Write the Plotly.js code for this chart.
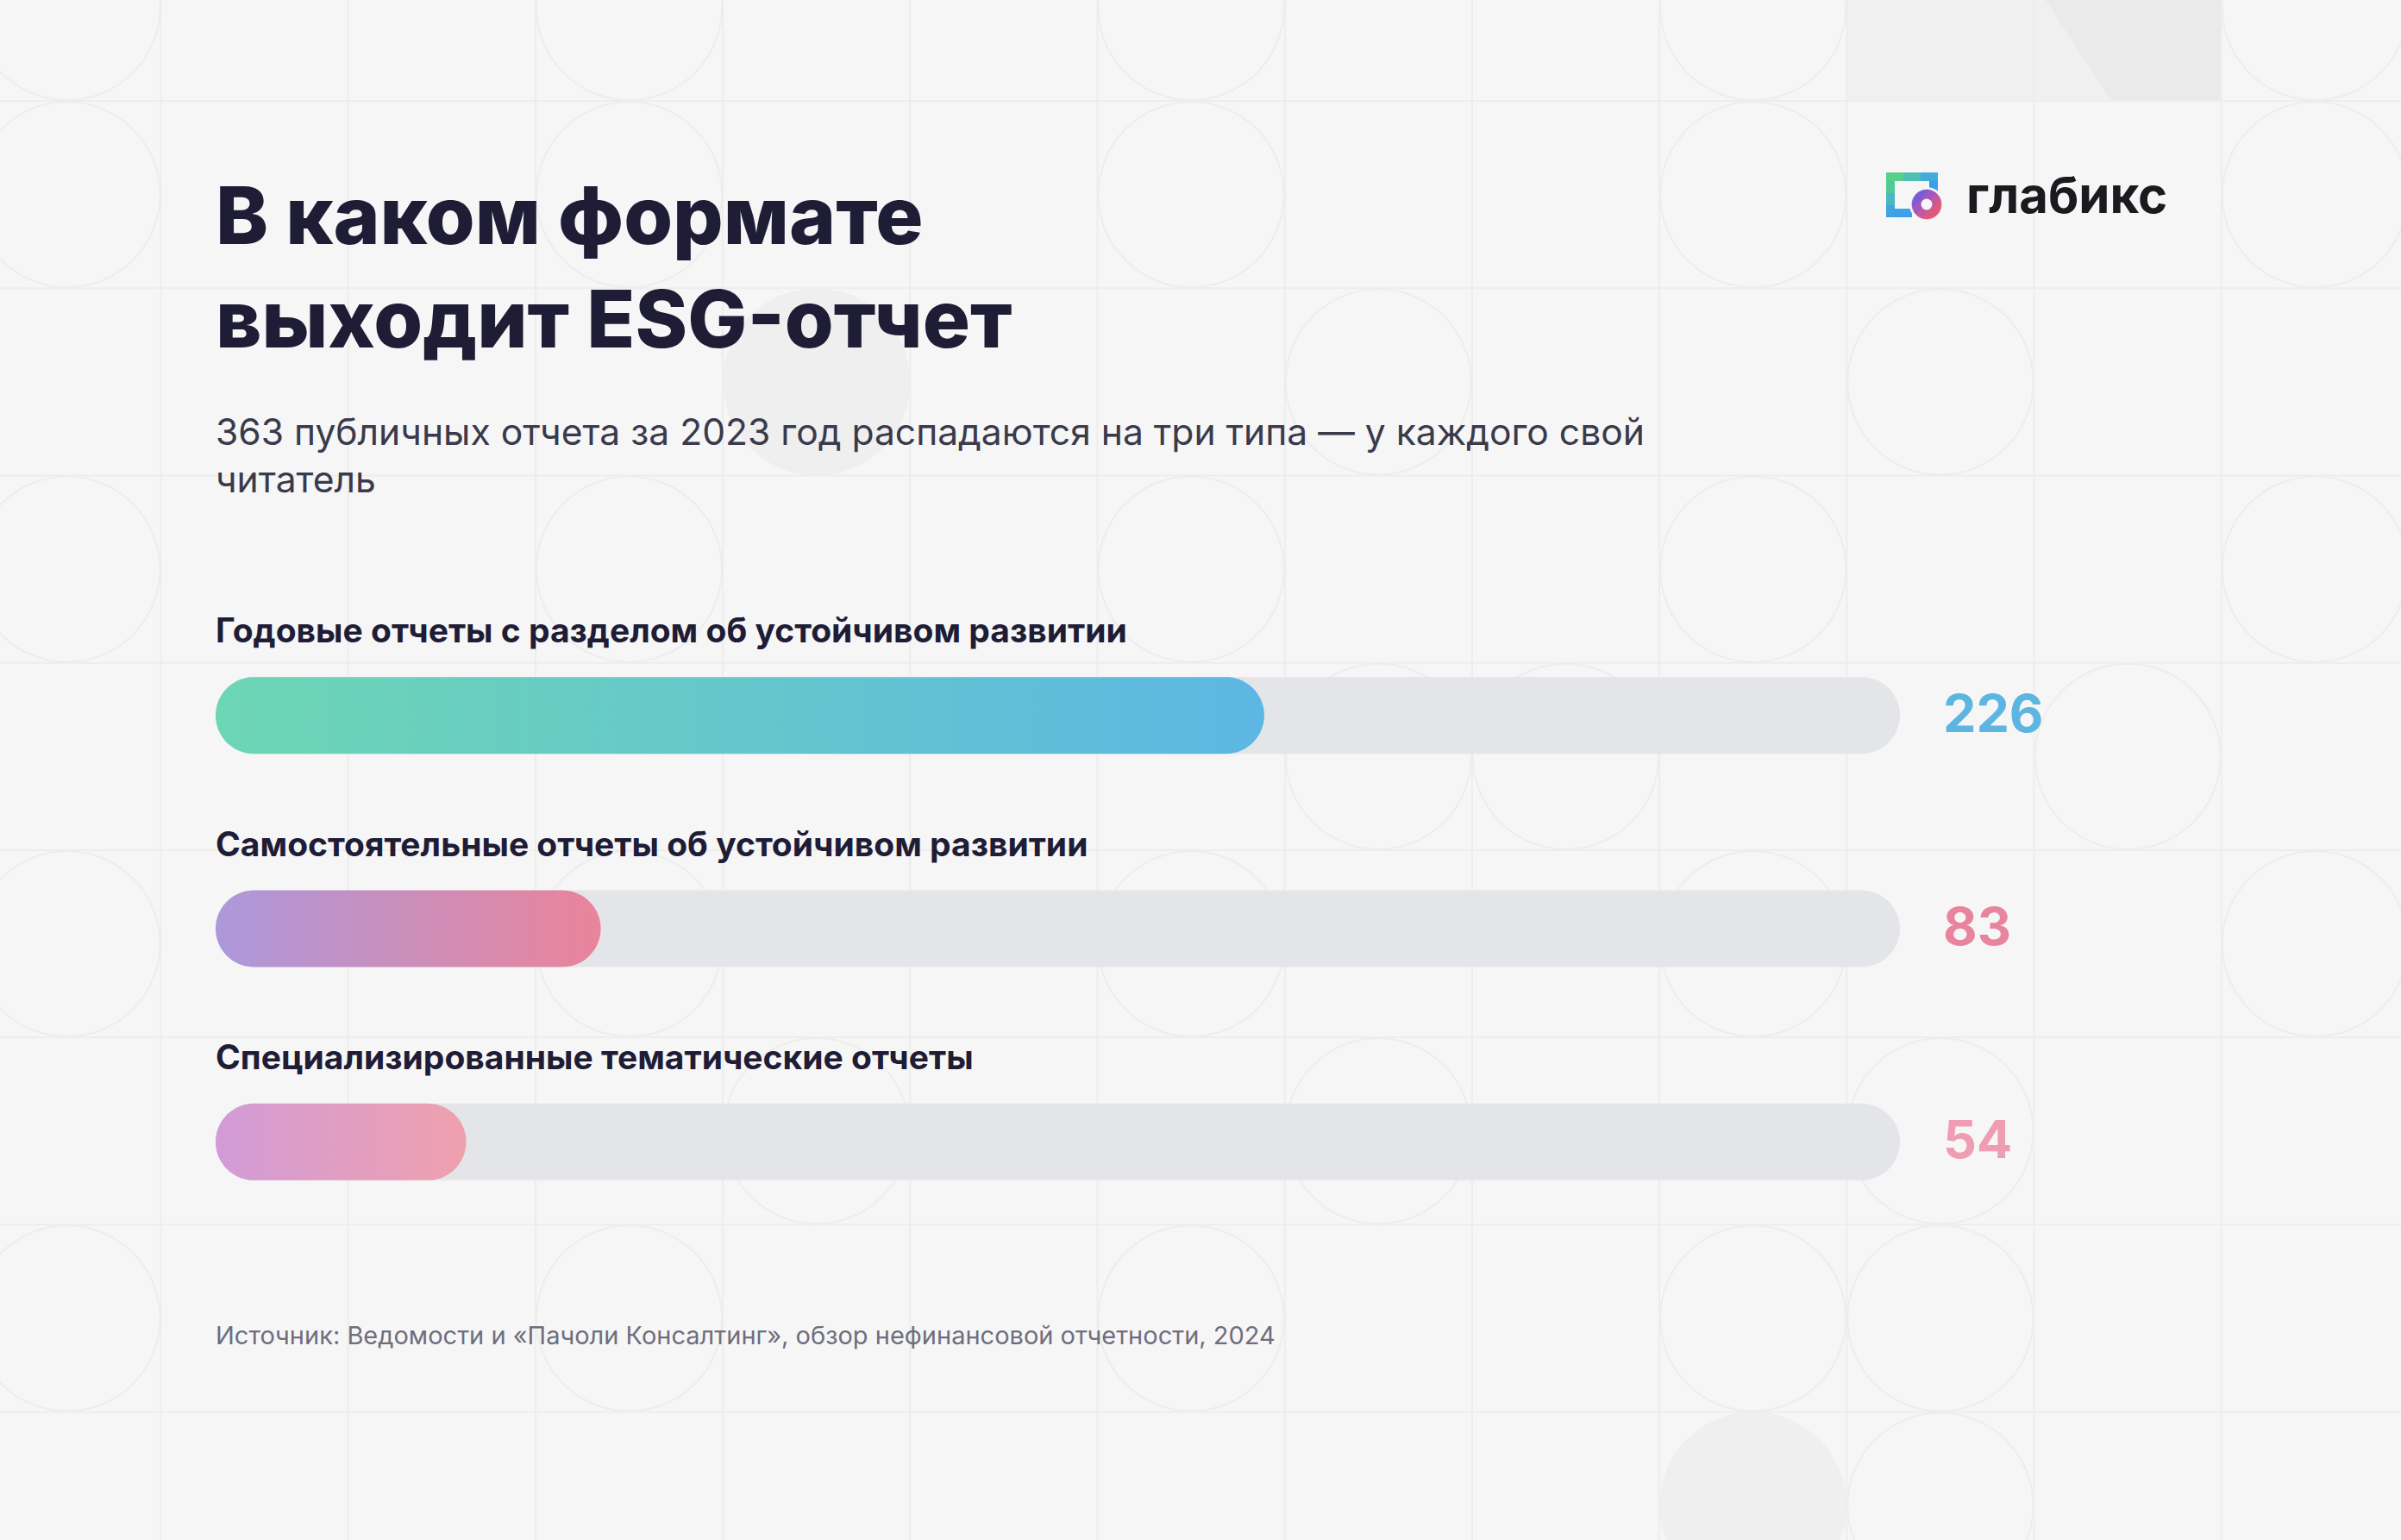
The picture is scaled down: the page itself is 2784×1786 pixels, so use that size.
<!DOCTYPE html>
<html><head><meta charset="utf-8">
<script src="https://cdn.plot.ly/plotly-3.0.1.min.js"></script>
<style>html,body{margin:0;padding:0;background:#F6F6F6;}#chart{width:2784px;height:1786px;}</style>
</head><body><div id="chart"></div>
<script>
// ---------- data ----------
const categories = [
  'Годовые отчеты с разделом об устойчивом развитии',
  'Самостоятельные отчеты об устойчивом развитии',
  'Специализированные тематические отчеты'
];
const values = [226, 83, 54];
const total = 363;
const gradLeft = ['#6DD6B4', '#AD98DB', '#D29BD7'];
const gradRight = ['#5DB7E3', '#E9849A', '#EFA0AD'];
const valueColors = ['#5DB6E2', '#E8849E', '#EE9DB3'];
const titleText = 'В каком формате<br>выходит ESG-отчет';
const subtitleText = '363 публичных отчета за 2023 год распадаются на три типа — у каждого свой<br>читатель';
const sourceText = 'Источник: Ведомости и «Пачоли Консалтинг», обзор нефинансовой отчетности, 2024';
const brandText = 'глабикс';

// ---------- geometry ----------
const W = 2784, H = 1786;
const ML = 250, MR = 581, MT = 706, MB = 338;
const PW = W - ML - MR, PH = H - MT - MB;
const PXX = PW / total;          // px per x unit
const PXY = PH / 3;              // px per category step
const BAR_R = 44.5;              // half bar thickness in px
const FONT = 'Inter, "Noto Sans", sans-serif';
const BG = '#F6F6F6';

const px2x = p => (p - ML) / PW;
const py2y = p => 1 - (p - MT) / PH;

function stadium(x0, x1, yc) {
  const rx = BAR_R / PXX, ry = BAR_R / PXY;
  const xs = [], ys = [], N = 36;
  for (let k = 0; k <= N; k++) {
    const t = -Math.PI / 2 + Math.PI * k / N;
    xs.push(x1 - rx + rx * Math.cos(t)); ys.push(yc + ry * Math.sin(t));
  }
  for (let k = 0; k <= N; k++) {
    const t = Math.PI / 2 + Math.PI * k / N;
    xs.push(x0 + rx + rx * Math.cos(t)); ys.push(yc + ry * Math.sin(t));
  }
  xs.push(xs[0]); ys.push(ys[0]);
  return {xs, ys};
}

const traces = [];
categories.forEach((c, i) => {
  const tr = stadium(0, total, i);
  traces.push({type: 'scatter', mode: 'none', x: tr.xs, y: tr.ys, fill: 'toself',
    fillcolor: '#E4E5E8', hoverinfo: 'skip', showlegend: false, name: c + ' (всего)'});
  const b = stadium(0, values[i], i);
  traces.push({type: 'scatter', mode: 'none', x: b.xs, y: b.ys, fill: 'toself',
    fillgradient: {type: 'horizontal', colorscale: [[0, gradLeft[i]], [1, gradRight[i]]]},
    hoverinfo: 'skip', showlegend: false, name: c});
});

// ---------- background pattern (decoration) ----------
const shapes = [];
const CELL = 217.2, GX0 = 186.5 - 217.2, GY0 = 117 - 217.1;
const LINEC = '#EDEDED';
shapes.push({type: 'rect', xref: 'paper', yref: 'paper', x0: px2x(GX0 + 10 * CELL), x1: px2x(GX0 + 12 * CELL),
  y0: py2y(0), y1: py2y(GY0 + CELL), fillcolor: '#F0F0F0', line: {width: 0}, layer: 'below'});
shapes.push({type: 'path', xref: 'paper', yref: 'paper', layer: 'below', fillcolor: '#EAEAEA', line: {width: 0},
  path: `M ${px2x(2372)},${py2y(0)} L ${px2x(GX0 + 12 * CELL)},${py2y(0)} L ${px2x(GX0 + 12 * CELL)},${py2y(GY0 + CELL)} L ${px2x(2448)},${py2y(GY0 + CELL)} Z`});
const filled = [[4, 2], [9, 8]];
filled.forEach(([c, r]) => shapes.push({type: 'circle', xref: 'paper', yref: 'paper', layer: 'below',
  x0: px2x(GX0 + c * CELL), x1: px2x(GX0 + (c + 1) * CELL), y0: py2y(GY0 + r * CELL), y1: py2y(GY0 + (r + 1) * CELL),
  fillcolor: '#EFEFEF', line: {width: 0}}));
for (let k = 0; k < 14; k++) {
  const x = GX0 + k * CELL;
  shapes.push({type: 'line', xref: 'paper', yref: 'paper', layer: 'below', x0: px2x(x), x1: px2x(x), y0: py2y(0), y1: py2y(H),
    line: {color: LINEC, width: 2}});
}
for (let k = 0; k < 10; k++) {
  const y = GY0 + k * CELL;
  shapes.push({type: 'line', xref: 'paper', yref: 'paper', layer: 'below', x0: px2x(0), x1: px2x(W), y0: py2y(y), y1: py2y(y),
    line: {color: LINEC, width: 2}});
}
const circles = [
  [0,0],[3,0],[6,0],[9,0],[12,0],
  [0,1],[3,1],[6,1],[9,1],[12,1],
  [7,2],[10,2],
  [0,3],[3,3],[6,3],[9,3],[12,3],
  [7,4],[8,4],[11,4],
  [0,5],[3,5],[6,5],[9,5],[12,5],
  [4,6],[7,6],[10,6],
  [0,7],[3,7],[6,7],[9,7],[10,7],
  [10,8]
];
circles.forEach(([c, r]) => shapes.push({type: 'circle', xref: 'paper', yref: 'paper', layer: 'below',
  x0: px2x(GX0 + c * CELL + 1), x1: px2x(GX0 + (c + 1) * CELL - 1), y0: py2y(GY0 + r * CELL + 1), y1: py2y(GY0 + (r + 1) * CELL - 1),
  line: {color: LINEC, width: 2}}));

// ---------- logo (decoration) ----------
function rectPx(x0, y0, x1, y1, color) {
  shapes.push({type: 'rect', xref: 'paper', yref: 'paper', x0: px2x(x0), x1: px2x(x1), y0: py2y(y0), y1: py2y(y1),
    fillcolor: color, line: {width: 0}, layer: 'above'});
}
rectPx(2187, 200, 2207, 210, '#58D088'); rectPx(2207, 200, 2227, 210, '#4EBFB0'); rectPx(2227, 200, 2247, 210, '#43AADC');
rectPx(2237, 210, 2247, 224, '#3C9DF0');
rectPx(2187, 210, 2197, 224, '#53C99A'); rectPx(2187, 224, 2197, 238, '#49B6C4'); rectPx(2187, 238, 2197, 252, '#40A3E4');
rectPx(2197, 242, 2217, 252, '#3EA0EA');
function circPx(cx, cy, r, color) {
  shapes.push({type: 'circle', xref: 'paper', yref: 'paper', x0: px2x(cx - r), x1: px2x(cx + r), y0: py2y(cy - r), y1: py2y(cy + r),
    fillcolor: color, line: {width: 0}, layer: 'above'});
}
circPx(2234, 237, 20, BG);
function diskSlice(cx, cy, r, t0, t1, color) {
  const pts = [], N = 96, S = Math.SQRT2;
  for (let k = 0; k < N; k++) {
    const a = 2 * Math.PI * k / N, x = r * Math.cos(a), y = r * Math.sin(a), t = (x + y) / S;
    if (t >= t0 && t <= t1) pts.push([x, y]);
  }
  [t0, t1].forEach(t => { if (Math.abs(t) < r) { const s = Math.sqrt(r * r - t * t);
    pts.push([(t + s) / S, (t - s) / S]); pts.push([(t - s) / S, (t + s) / S]); } });
  const mx = pts.reduce((a, p) => a + p[0], 0) / pts.length, my = pts.reduce((a, p) => a + p[1], 0) / pts.length;
  pts.sort((p, q) => Math.atan2(p[1] - my, p[0] - mx) - Math.atan2(q[1] - my, q[0] - mx));
  const path = pts.map((p, k) => (k ? 'L ' : 'M ') + px2x(cx + p[0]) + ',' + py2y(cy + p[1])).join(' ') + ' Z';
  shapes.push({type: 'path', xref: 'paper', yref: 'paper', path, fillcolor: color, line: {color: color, width: 0.6}, layer: 'above'});
}
const ringCols = ['#7C5BD6', '#A058BC', '#C5579C', '#E0577A'];
const RR = 17;
ringCols.forEach((col, k) => diskSlice(2234, 237, RR, -RR + k * RR / 2, -RR + (k + 1) * RR / 2, col));
circPx(2234, 237, 6.5, BG);

// ---------- annotations ----------
const annotations = [];
categories.forEach((c, i) => {
  annotations.push({x: 0, y: i, xref: 'x', yref: 'y', text: '<b>' + c + '</b>', showarrow: false,
    xanchor: 'left', yanchor: 'middle', yshift: 99, xshift: -2,
    font: {family: FONT, size: 39, color: '#1F1D36'}});
  annotations.push({x: total, y: i, xref: 'x', yref: 'y', text: '<b>' + values[i] + '</b>', showarrow: false,
    xanchor: 'left', yanchor: 'middle', xshift: 48, yshift: 3,
    font: {family: FONT, size: 61, color: valueColors[i]}});
});
annotations.push({x: px2x(248), y: py2y(528), xref: 'paper', yref: 'paper', text: subtitleText, showarrow: false,
  xanchor: 'left', yanchor: 'middle', align: 'left', font: {family: FONT, size: 42.6, color: '#3A3A4C'}});
annotations.push({x: px2x(248), y: py2y(1548), xref: 'paper', yref: 'paper', text: sourceText, showarrow: false,
  xanchor: 'left', yanchor: 'middle', align: 'left', font: {family: FONT, size: 29, color: '#6E6E7E'}});
annotations.push({x: px2x(2278), y: py2y(226), xref: 'paper', yref: 'paper', text: '<b>' + brandText + '</b>', showarrow: false,
  xanchor: 'left', yanchor: 'middle', font: {family: FONT, size: 58, color: '#1B1B1F'}});

const layout = {
  width: W, height: H,
  margin: {l: ML, r: MR, t: MT, b: MB, pad: 0},
  paper_bgcolor: BG, plot_bgcolor: 'rgba(0,0,0,0)',
  title: {text: titleText, x: 250 / W, xref: 'container', xanchor: 'left', y: 1 - 283 / H, yref: 'container', yanchor: 'top',
    font: {family: FONT, size: 92, color: '#1F1D36', weight: 800}},
  xaxis: {range: [0, total], visible: false, fixedrange: true},
  yaxis: {range: [2.5, -0.5], visible: false, fixedrange: true},
  showlegend: false,
  shapes, annotations
};
Plotly.newPlot('chart', traces, layout, {displayModeBar: false, staticPlot: true});
</script></body></html>
